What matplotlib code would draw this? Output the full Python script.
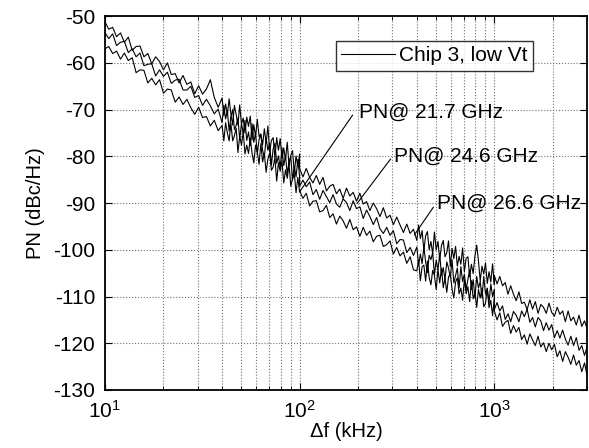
import numpy as np
import matplotlib
matplotlib.use("Agg")
import matplotlib.pyplot as plt
from matplotlib.ticker import LogLocator

plt.rcParams['font.family'] = ['Liberation Sans', 'DejaVu Sans']
plt.rcParams['axes.unicode_minus'] = False

# ---- frequency sampling grids of the analyzer sweeps (kHz) ----
f_seg1 = np.geomspace(10, 40, 30, endpoint=False)
f_seg2 = np.geomspace(40, 100, 45)
f_seg3 = np.geomspace(100, 400, 35, endpoint=False)
f_seg4 = np.geomspace(400, 1000, 45)
f_seg5 = np.geomspace(1000, 3000, 35)

# ---- phase noise traces (dBc/Hz) ----
pn_top_1 = [-51.2, -52.8, -52.4, -54.4, -53.6, -55.6, -54.5, -57.3, -56.5, -56.4,
            -58.7, -58.0, -60.2, -58.7, -59.7, -61.5, -60.0, -62.5, -62.3, -64.3,
            -62.7, -64.6, -64.1, -66.6, -64.9, -66.7, -65.6, -63.6, -67.4, -69.5]
pn_mid_1 = [-53.5, -54.8, -53.8, -56.3, -55.6, -55.4, -57.8, -57.0, -58.7, -57.9,
            -60.6, -60.3, -60.2, -62.8, -61.5, -62.9, -62.0, -64.4, -63.7, -63.5,
            -65.8, -65.8, -65.0, -67.4, -67.0, -69.1, -67.8, -69.2, -70.9, -69.9]
pn_bot_1 = [-57.0, -56.5, -58.0, -57.5, -59.2, -57.9, -59.5, -58.9, -62.1, -61.5,
            -61.6, -64.3, -63.3, -64.7, -63.6, -66.5, -65.6, -65.8, -68.4, -67.3,
            -68.9, -67.8, -69.6, -71.0, -69.5, -71.7, -71.5, -73.5, -72.3, -74.5]

pn_top_2 = [-67.5, -71.3, -68.8, -71.1, -67.7, -70.9, -73.3, -69.1, -71.1, -73.3,
            -69.0, -73.1, -71.8, -75.0, -71.6, -73.6, -71.4, -76.5, -73.2, -75.8,
            -72.1, -75.8, -75.2, -77.6, -74.1, -77.2, -73.5, -79.1, -76.6, -76.0,
            -80.3, -76.0, -78.7, -76.2, -80.6, -78.2, -80.7, -77.0, -82.0, -79.8,
            -78.8, -83.5, -79.9, -82.1, -79.5]
pn_mid_2 = [-72.8, -69.1, -72.0, -70.3, -74.6, -71.5, -70.0, -74.3, -73.4, -71.8,
            -76.4, -73.0, -75.1, -72.3, -76.6, -74.8, -77.7, -73.0, -77.0, -75.1,
            -79.4, -76.4, -75.4, -78.7, -80.2, -76.1, -78.7, -77.2, -81.9, -78.4,
            -77.2, -81.5, -79.9, -82.4, -78.1, -82.0, -79.8, -83.8, -81.1, -80.2,
            -85.0, -82.2, -84.4, -80.7, -84.3]
pn_bot_2 = [-73.4, -76.7, -72.8, -75.0, -76.7, -72.9, -76.7, -75.6, -74.0, -79.2,
            -75.7, -77.6, -74.7, -79.5, -77.6, -79.4, -76.1, -79.3, -81.4, -77.6,
            -79.1, -81.7, -77.3, -81.2, -79.4, -83.4, -80.6, -79.3, -83.0, -82.3,
            -80.3, -85.3, -81.4, -83.2, -80.9, -85.7, -82.9, -84.7, -81.6, -86.4,
            -84.8, -83.7, -87.8, -84.5, -87.6]

pn_top_3 = [-82.6, -84.4, -82.6, -84.5, -85.7, -84.1, -86.0, -84.5, -87.4, -86.4,
            -86.0, -88.0, -87.0, -89.0, -86.8, -88.5, -87.7, -89.6, -87.9, -90.2,
            -89.7, -91.6, -90.0, -91.2, -92.9, -91.0, -93.2, -92.6, -94.6, -93.0,
            -94.7, -96.3, -94.5, -96.5, -95.6]
pn_mid_3 = [-86.4, -85.1, -86.5, -85.5, -88.2, -87.1, -89.2, -87.3, -88.6, -89.9,
            -88.2, -90.2, -90.9, -89.1, -89.9, -91.6, -89.5, -91.2, -90.8, -93.3,
            -91.5, -92.9, -94.6, -93.1, -95.5, -96.5, -95.2, -96.9, -95.9, -98.7,
            -97.8, -97.9, -100.6, -99.5, -101.2]
pn_bot_3 = [-87.3, -89.0, -87.9, -90.6, -89.6, -89.5, -91.9, -91.6, -90.5, -93.1,
            -92.3, -94.5, -92.8, -93.8, -95.4, -93.5, -95.7, -95.1, -97.1, -95.2,
            -96.9, -96.0, -98.3, -97.1, -96.9, -99.3, -98.9, -98.1, -100.9, -99.5,
            -101.3, -100.5, -102.9, -101.5, -104.3]

pn_top_4 = [-98.0, -94.7, -97.6, -95.9, -100.2, -97.0, -96.1, -100.0, -98.2, -100.9,
            -96.2, -100.0, -98.2, -102.0, -99.1, -98.0, -101.5, -100.6, -98.1, -103.6,
            -99.7, -101.9, -99.3, -103.5, -101.4, -103.1, -99.6, -104.7, -101.8, -101.5,
            -105.8, -103.1, -105.1, -101.3, -99.0, -102.4, -106.7, -103.5, -105.2, -102.8,
            -107.2, -104.7, -106.9, -103.0, -107.5]
pn_mid_4 = [-99.4, -103.3, -100.9, -103.0, -99.4, -102.6, -104.9, -101.2, -102.1, -100.6,
            -105.3, -102.2, -104.3, -100.9, -105.5, -103.8, -106.4, -102.6, -103.9, -105.9,
            -102.1, -107.1, -105.5, -103.9, -108.2, -103.6, -106.8, -105.2, -108.5, -106.3,
            -104.3, -108.5, -106.4, -110.3, -105.7, -108.2, -106.8, -110.3, -105.7, -109.5,
            -108.2, -111.4, -107.3, -110.0, -108.4]
pn_bot_4 = [-104.5, -102.2, -106.6, -103.6, -103.3, -106.7, -102.4, -105.9, -107.5, -104.4,
            -105.5, -108.5, -104.2, -107.1, -104.0, -108.1, -106.1, -109.1, -105.8, -105.2,
            -108.4, -110.3, -106.9, -106.0, -109.4, -108.2, -110.8, -106.3, -109.4, -107.9,
            -111.1, -106.6, -110.5, -109.2, -112.3, -108.5, -110.3, -108.2, -112.2, -111.4,
            -108.3, -112.4, -110.8, -114.1, -110.3]

pn_top_5 = [-105.5, -107.3, -105.7, -107.7, -107.0, -109.5, -107.7, -109.5, -110.9, -109.0,
            -111.5, -111.2, -112.8, -110.7, -112.7, -111.1, -113.6, -111.7, -112.3, -113.6,
            -111.4, -113.4, -114.2, -112.3, -113.8, -113.1, -115.4, -113.1, -115.2, -114.4,
            -116.1, -114.0, -116.4, -115.2, -117.0]
pn_mid_5 = [-112.8, -111.3, -113.1, -112.0, -114.9, -113.7, -115.4, -113.2, -114.0, -115.4,
            -113.1, -114.3, -112.7, -115.5, -114.5, -116.5, -114.5, -115.2, -117.3, -115.6,
            -117.2, -116.0, -118.8, -117.3, -118.9, -117.2, -119.1, -120.4, -118.5, -120.5,
            -118.8, -121.5, -120.5, -122.6, -120.7]
pn_bot_5 = [-113.1, -115.0, -113.5, -116.4, -115.5, -115.1, -117.9, -116.2, -117.6, -116.6,
            -119.2, -118.2, -120.2, -118.0, -119.3, -120.5, -118.5, -120.8, -119.9, -121.8,
            -120.0, -121.4, -120.2, -122.9, -121.6, -123.9, -121.8, -123.0, -124.5, -122.5,
            -124.7, -123.7, -126.1, -124.2, -127.1]

labels = ["PN@ 21.7 GHz", "PN@ 24.6 GHz", "PN@ 26.6 GHz"]
legend_label = "Chip 3, low Vt"
yticks = [-130, -120, -110, -100, -90, -80, -70, -60, -50]

freq = np.concatenate([f_seg1, f_seg2, f_seg3, f_seg4, f_seg5])
traces = [
    np.concatenate([pn_top_1, pn_top_2, pn_top_3, pn_top_4, pn_top_5]),
    np.concatenate([pn_mid_1, pn_mid_2, pn_mid_3, pn_mid_4, pn_mid_5]),
    np.concatenate([pn_bot_1, pn_bot_2, pn_bot_3, pn_bot_4, pn_bot_5]),
]

fig = plt.figure(figsize=(5.89, 4.48), dpi=100)
ax = fig.add_axes([0.178, 0.1295, 0.819, 0.8345])

for i, tr in enumerate(traces):
    ax.semilogx(freq, tr, color='black', linewidth=0.8,
                label=legend_label if i == 0 else None)

ax.set_xlim(10, 3000)
ax.set_ylim(-130, -50)
ax.set_yticks(yticks)
ax.xaxis.set_major_locator(LogLocator(base=10, numticks=10))
ax.xaxis.set_minor_locator(LogLocator(base=10, subs=np.arange(2, 10), numticks=20))

ax.grid(True, which='major', axis='both', linestyle=':', color='0.45', linewidth=0.8)
ax.grid(True, which='minor', axis='x', linestyle=':', color='0.45', linewidth=0.8)

ax.tick_params(which='both', direction='in', top=True, right=True)
ax.tick_params(which='major', length=5, labelsize=15, pad=7)
ax.tick_params(which='minor', length=3)
for sp in ax.spines.values():
    sp.set_linewidth(1.3)

ax.set_xlabel("Δf (kHz)", fontsize=14.5, labelpad=0)
ax.set_ylabel("PN (dBc/Hz)", fontsize=14.5, labelpad=6)

leg = ax.legend(loc='upper right', bbox_to_anchor=(0.888, 0.933), borderaxespad=0,
                fontsize=15, frameon=True, fancybox=False, handlelength=2.6,
                handletextpad=0.2, borderpad=0.25)
leg.get_frame().set_edgecolor('black')
leg.get_frame().set_linewidth(1.0)

ann = [
    (labels[0], (100, -87.6), (187, -71.2), (203, -70.5)),
    (labels[1], (198, -90.0), (293, -80.6), (307, -79.9)),
    (labels[2], (389, -96.8), (486, -90.9), (505, -90.0)),
]
for text, p_end, p_start, p_text in ann:
    ax.plot([p_start[0], p_end[0]], [p_start[1], p_end[1]], color='black', linewidth=0.8)
    ax.text(p_text[0], p_text[1], text, fontsize=15, ha='left', va='center')

fig.savefig("out.png", dpi=100)
